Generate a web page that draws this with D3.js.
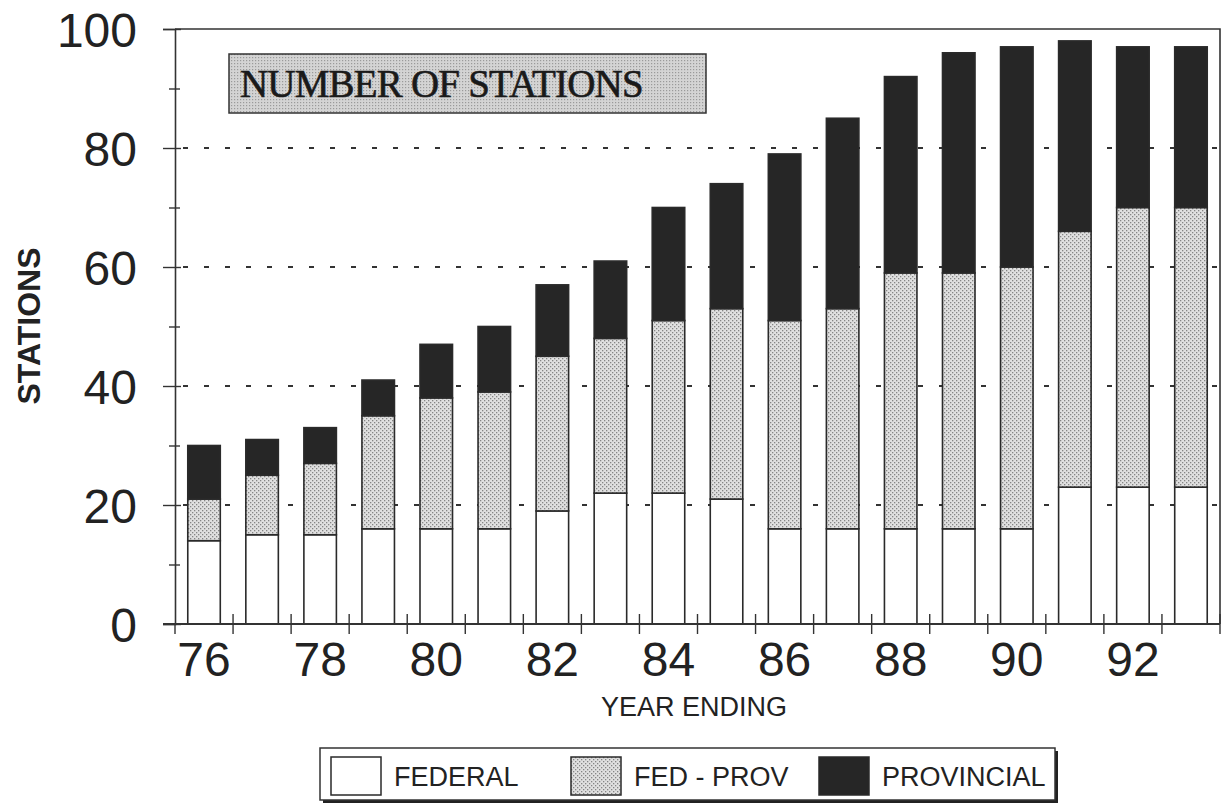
<!DOCTYPE html>
<html>
<head>
<meta charset="utf-8">
<script src="https://cdn.jsdelivr.net/npm/d3@7"></script>
<style>
  html, body { margin: 0; padding: 0; background: #fff; }
  svg { display: block; font-family: Arial, "Liberation Sans", Helvetica, sans-serif; }
  text { fill: #222; }
</style>
</head>
<body>
<div id="chart"></div>
<script>
(function () {

    // year ending (19xx)
    const years = [76, 77, 78, 79, 80, 81, 82, 83, 84, 85, 86, 87, 88, 89, 90, 91, 92, 93];
    const federal    = [14, 15, 15, 16, 16, 16, 19, 22, 22, 21, 16, 16, 16, 16, 16, 23, 23, 23];
    const fedProv    = [ 7, 10, 12, 19, 22, 23, 26, 26, 29, 32, 35, 37, 43, 43, 44, 43, 47, 47];
    const provincial = [ 9,  6,  6,  6,  9, 11, 12, 13, 19, 21, 28, 32, 33, 37, 37, 32, 27, 27];
    const seriesNames = ["FEDERAL", "FED - PROV", "PROVINCIAL"];
    const xLabels = [76, 78, 80, 82, 84, 86, 88, 90, 92];
    const yTicks = [0, 20, 40, 60, 80, 100];
    const yMinor = [10, 30, 50, 70, 90];
    const gridTicks = [20, 40, 60, 80];

    const width = 1230, height = 805;
    const left = 175, right = 1220, top = 29, bottom = 624;

    const table = years.map((yr, i) => ({
        year: yr, federal: federal[i], fedProv: fedProv[i], provincial: provincial[i]
    }));
    const keys = ["federal", "fedProv", "provincial"];
    const stacked = d3.stack().keys(keys)(table);

    const x = d3.scaleBand().domain(years).range([left, right]).paddingInner(0.44).paddingOuter(0.22);
    const y = d3.scaleLinear().domain([0, 100]).range([bottom, top]);

    const svg = d3.select("#chart").append("svg")
        .attr("width", width)
        .attr("height", height);

    // stipple patterns, like the old halftone fills
    const defs = svg.append("defs");
    const light = defs.append("pattern")
        .attr("id", "dots")
        .attr("width", 4).attr("height", 4)
        .attr("patternUnits", "userSpaceOnUse");
    light.append("rect").attr("width", 4).attr("height", 4).attr("fill", "#e0e0e0");
    light.append("rect").attr("x", 0).attr("y", 0).attr("width", 1.3).attr("height", 1.3).attr("fill", "#858585");
    light.append("rect").attr("x", 2).attr("y", 2).attr("width", 1.3).attr("height", 1.3).attr("fill", "#858585");

    const titleDots = defs.append("pattern")
        .attr("id", "titleDots")
        .attr("width", 3).attr("height", 3)
        .attr("patternUnits", "userSpaceOnUse");
    titleDots.append("rect").attr("width", 3).attr("height", 3).attr("fill", "#d4d4d4");
    titleDots.append("rect").attr("width", 1.2).attr("height", 1.2).attr("fill", "#9a9a9a");

    const fills = { federal: "#ffffff", fedProv: "url(#dots)", provincial: "#262626" };

    // dashed grid
    svg.append("g")
        .selectAll("line")
        .data(gridTicks)
        .enter()
        .append("line")
        .attr("x1", left + 8).attr("x2", right)
        .attr("y1", d => y(d)).attr("y2", d => y(d))
        .attr("stroke", "#333")
        .attr("stroke-width", 2)
        .attr("stroke-dasharray", "5,16");

    // bars
    svg.append("g")
        .selectAll("g")
        .data(stacked)
        .enter()
        .append("g")
        .attr("fill", d => fills[d.key])
        .selectAll("rect")
        .data(d => d)
        .enter()
        .append("rect")
        .attr("x", d => x(d.data.year))
        .attr("width", x.bandwidth())
        .attr("y", d => y(d[1]))
        .attr("height", d => y(d[0]) - y(d[1]))
        .attr("stroke", "#2a2a2a")
        .attr("stroke-width", 1.6);

    // frame: top and right edge
    svg.append("path")
        .attr("d", `M${left},${top}H${right}V${bottom}`)
        .attr("fill", "none")
        .attr("stroke", "#333")
        .attr("stroke-width", 1.6);

    // y axis
    const yAxis = svg.append("g")
        .attr("transform", `translate(${left},0)`)
        .call(d3.axisLeft(y).tickValues(yTicks).tickSize(12).tickPadding(26));
    yAxis.select(".domain").attr("stroke", "#333").attr("stroke-width", 1.6);
    yAxis.selectAll(".tick line").attr("x2", -12).attr("x1", 6).attr("stroke", "#333").attr("stroke-width", 1.4);
    yAxis.selectAll(".tick text")
        .attr("font-size", 48)
        .attr("fill", "#222")
        .attr("dy", "0.36em");

    svg.append("g")
        .attr("transform", `translate(${left},0)`)
        .call(d3.axisLeft(y).tickValues(yMinor).tickSize(6).tickFormat(""))
        .call(g => g.select(".domain").remove())
        .selectAll(".tick line").attr("x1", 5).attr("stroke", "#333").attr("stroke-width", 1.4);

    // x axis: ticks at band boundaries, labels under every other bar
    const bounds = years.map(yr => x(yr) - x.step() * x.paddingInner() / 2).slice(1);
    svg.append("line")
        .attr("x1", left - 12).attr("x2", right)
        .attr("y1", bottom).attr("y2", bottom)
        .attr("stroke", "#333").attr("stroke-width", 1.8);
    svg.append("g")
        .selectAll("line")
        .data(bounds.concat([right]))
        .enter()
        .append("line")
        .attr("x1", d => d).attr("x2", d => d)
        .attr("y1", bottom - 10).attr("y2", bottom + 10)
        .attr("stroke", "#333").attr("stroke-width", 1.4);
    svg.append("line")
        .attr("x1", left).attr("x2", left)
        .attr("y1", bottom).attr("y2", bottom + 10)
        .attr("stroke", "#333").attr("stroke-width", 1.4);

    const xAxis = svg.append("g")
        .attr("transform", `translate(0,${bottom})`)
        .call(d3.axisBottom(x).tickValues(xLabels).tickSize(0).tickPadding(18));
    xAxis.select(".domain").remove();
    xAxis.selectAll(".tick text")
        .attr("font-size", 48)
        .attr("fill", "#222")
        .attr("dy", "0.71em");

    // axis titles
    svg.append("text")
        .attr("transform", `translate(40,326) rotate(-90)`)
        .attr("text-anchor", "middle")
        .attr("font-size", 32)
        .attr("font-weight", "bold")
        .text("STATIONS");

    svg.append("text")
        .attr("x", 694).attr("y", 716)
        .attr("text-anchor", "middle")
        .attr("font-size", 27)
        .text("YEAR ENDING");

    // title box
    svg.append("rect")
        .attr("x", 229).attr("y", 54)
        .attr("width", 477).attr("height", 59)
        .attr("fill", "url(#titleDots)")
        .attr("stroke", "#333").attr("stroke-width", 1.5);
    svg.append("text")
        .attr("x", 240).attr("y", 97)
        .style("font-family", "'Liberation Serif', 'Times New Roman', serif")
        .attr("font-size", 39)
        .attr("letter-spacing", -0.8)
        .style("fill", "#1a1a1a")
        .attr("stroke", "#1a1a1a")
        .attr("stroke-width", 0.6)
        .text("NUMBER OF STATIONS");

    // legend
    const legend = svg.append("g");
    legend.append("rect")
        .attr("x", 323).attr("y", 751).attr("width", 735).attr("height", 52)
        .attr("fill", "#222");
    legend.append("rect")
        .attr("x", 320).attr("y", 748).attr("width", 735).attr("height", 52)
        .attr("fill", "#fff").attr("stroke", "#333").attr("stroke-width", 1.5);

    const legendX = [331, 571, 819];
    const items = legend.selectAll("g.item")
        .data(keys)
        .enter()
        .append("g")
        .attr("class", "item")
        .attr("transform", (d, i) => `translate(${legendX[i]},757)`);
    items.append("rect")
        .attr("width", 50).attr("height", 38)
        .attr("fill", d => fills[d])
        .attr("stroke", "#2a2a2a").attr("stroke-width", 1.5);
    items.append("text")
        .attr("x", 63).attr("y", 29)
        .attr("font-size", 27)
        .text((d, i) => seriesNames[i]);

})()
</script>
</body>
</html>
